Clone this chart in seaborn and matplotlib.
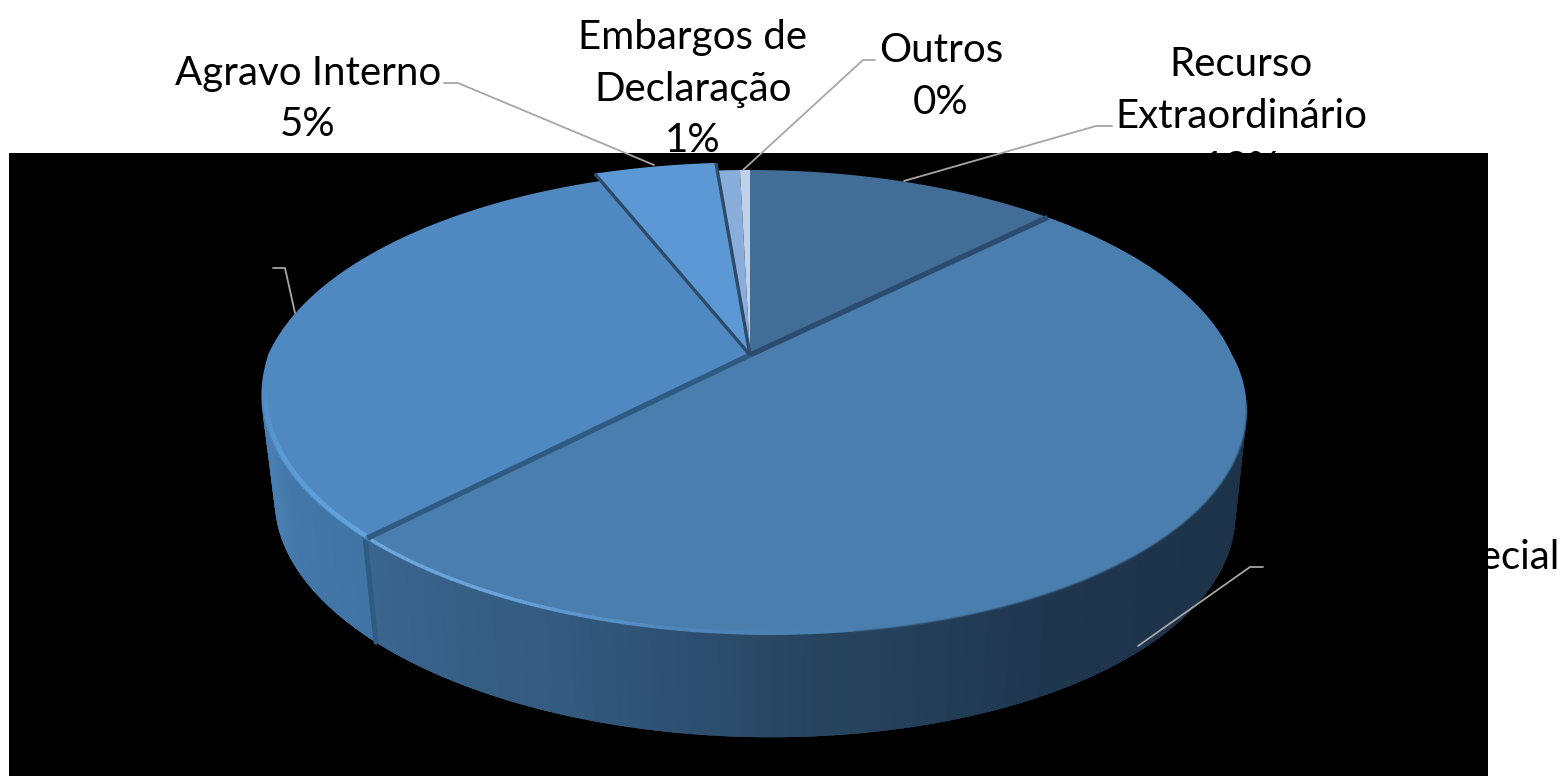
import numpy as np
import matplotlib
matplotlib.use("Agg")
import matplotlib.pyplot as plt
import seaborn as sns

sns.set_theme(style="white")
plt.rcParams['font.family'] = ['Lato', 'DejaVu Sans']

# ---- data ----
categories = ["Recurso Extraordinário", "Recurso Especial", "Agravo",
              "Agravo Interno", "Embargos de Declaração", "Outros"]
shares = [12.5, 50.0, 31.5, 4.7, 0.9, 0.4]
label_texts = ["Recurso\nExtraordinário\n13%", "Recurso Especial\n50%", "Agravo\n32%",
               "Agravo Interno\n5%", "Embargos de\nDeclaração\n1%", "Outros\n0%"]
top_colors = ["#416d97", "#497eaf", "#5089c1", "#5b98d4", "#89aedb", "#c0d2ea"]

# ---- layout / style ----
APEX = (750.0, 355.0)
A, B, K = 222.8, 482.0, 0.2043
SHEAR = 0.075
label_pos = [(1241, 116), (1411, 583), (170, 268), (308, 99), (693, 89), (941, 76)]
explode = [1, 1, 1, 1.05, 1, 1]
leaders = [[(1112, 126), (1096, 126), (904, 181)],
           [(1263, 567), (1250, 567), (1138, 646)],
           [(273, 268), (285, 268), (295, 313)],
           [(444, 83), (458, 83), (654, 165)],
           [(875, 60), (863, 60), (743, 170)]]


def project(theta_deg, r=1.0):
    """Map a pie angle (clockwise from the back) onto the tilted top face."""
    t = np.radians(theta_deg)
    u, v = r * np.sin(t), r * np.cos(t)
    s = 1 / (1 + K * v)
    X, Y = B * u * s, -A * v * s
    Yp = np.maximum(Y, 0)
    X = X + SHEAR * Yp ** 2 / (Yp + 60) + 3.5 * Yp / (Yp + 20)
    return APEX[0] + X, APEX[1] + Y


def project_bottom(theta_deg):
    x, y = project(theta_deg)
    return 756 + (x - 755) * 0.975, 355 + (y - 355) * 0.99 + 105


fig = plt.figure(figsize=(15.6, 7.76), dpi=100, facecolor="white")
ax = fig.add_axes([0, 0, 1, 1])
ax.set_xlim(0, 1560)
ax.set_ylim(776, 0)
ax.axis("off")

# labels sit beneath the black panel, as in the source
for txt, (lx, ly) in zip(label_texts, label_pos):
    ax.text(lx, ly, txt, ha="center", va="center", fontsize=29,
            color="black", linespacing=1.5, zorder=1)

ax.fill_between([9, 1488], 153, 776, color="black", lw=0, zorder=2)

edges = np.concatenate([[0], np.cumsum(shares)]) * 3.6
edges[-1] = 360
TH_R, TH_L = 101.8, 258.2

# side wall
th_split = edges[2]
wall_sets = [(TH_R, th_split, ["#1d334a", "#1d334a", "#1f364f", "#27445f", "#335a80", "#3a658e"]),
             (th_split, TH_L, ["#3f74a4", "#4478aa", "#4c85b9"])]
for a, b, cols in wall_sets:
    n = int((b - a) * 2)
    pal = sns.blend_palette(cols, n)
    th = np.linspace(a, b, n + 1)
    for i in range(n):
        seg = np.linspace(th[i], min(th[i + 1] + 1.0, b), 4)
        xt, yt = project(seg)
        xb, yb = project_bottom(seg)
        ax.fill(np.r_[xt, xb[::-1]], np.r_[yt, yb[::-1]], color=pal[i], lw=0, zorder=3)

# wall separator
xs = [project(th_split)[0], project_bottom(th_split)[0]]
ys = [project(th_split)[1], project_bottom(th_split)[1]]
ax.plot(xs, ys, color="#2f5b82", lw=3.6, solid_capstyle="round", zorder=4)

# top face slices
for i, (c, e) in enumerate(zip(top_colors, explode)):
    th = np.linspace(edges[i], edges[i + 1], max(int(shares[i] * 8), 3))
    x, y = project(th, e)
    ax.fill(np.r_[APEX[0], x], np.r_[APEX[1], y], color=c, lw=0, zorder=5)

# soft edge and bevel highlight along the front rim
th = np.linspace(TH_R, 172, 120)
x, y = project(th)
ax.plot(x, y, color="#34587a", lw=1.6, alpha=0.45, zorder=6)
rim_cols = sns.blend_palette(["#497eaf", "#4f87bb", "#6aa4dc", "#6fa8df"], 80)
th = np.linspace(172, th_split - 0.5, 81)
x, y = project(th, 0.994)
for i in range(80):
    ax.plot(x[i:i + 2], y[i:i + 2], color=rim_cols[i], lw=2.4, solid_capstyle="butt", zorder=7)
th = np.linspace(th_split + 0.5, TH_L + 5, 60)
x, y = project(th, 0.992)
rim_cols = sns.blend_palette(["#63a3e0", "#5c9dd9", "#5089c1"], 59)
for i in range(59):
    ax.plot(x[i:i + 2], y[i:i + 2], color=rim_cols[i], lw=3.2, solid_capstyle="butt", zorder=7)

# dark slice separators
sep_cols = ["#2b4c6e", "#2f5b82", "#2e4a66", "#2e4a66"]
sep_lw = [3.8, 3.8, 2.4, 2.4]
sep_r = [1.0, 0.995, 1.05, 1.05]
for k in range(4):
    x, y = project(edges[k + 1], sep_r[k])
    ax.plot([APEX[0], x], [APEX[1], y], color=sep_cols[k], lw=sep_lw[k],
            solid_capstyle="butt", zorder=8)

# leader lines over the panel
for pts in leaders:
    p = np.array(pts)
    ax.plot(p[:, 0], p[:, 1], color="#a6a6a6", lw=1.3, zorder=9)

fig.savefig("out.png", dpi=100, facecolor="white")
